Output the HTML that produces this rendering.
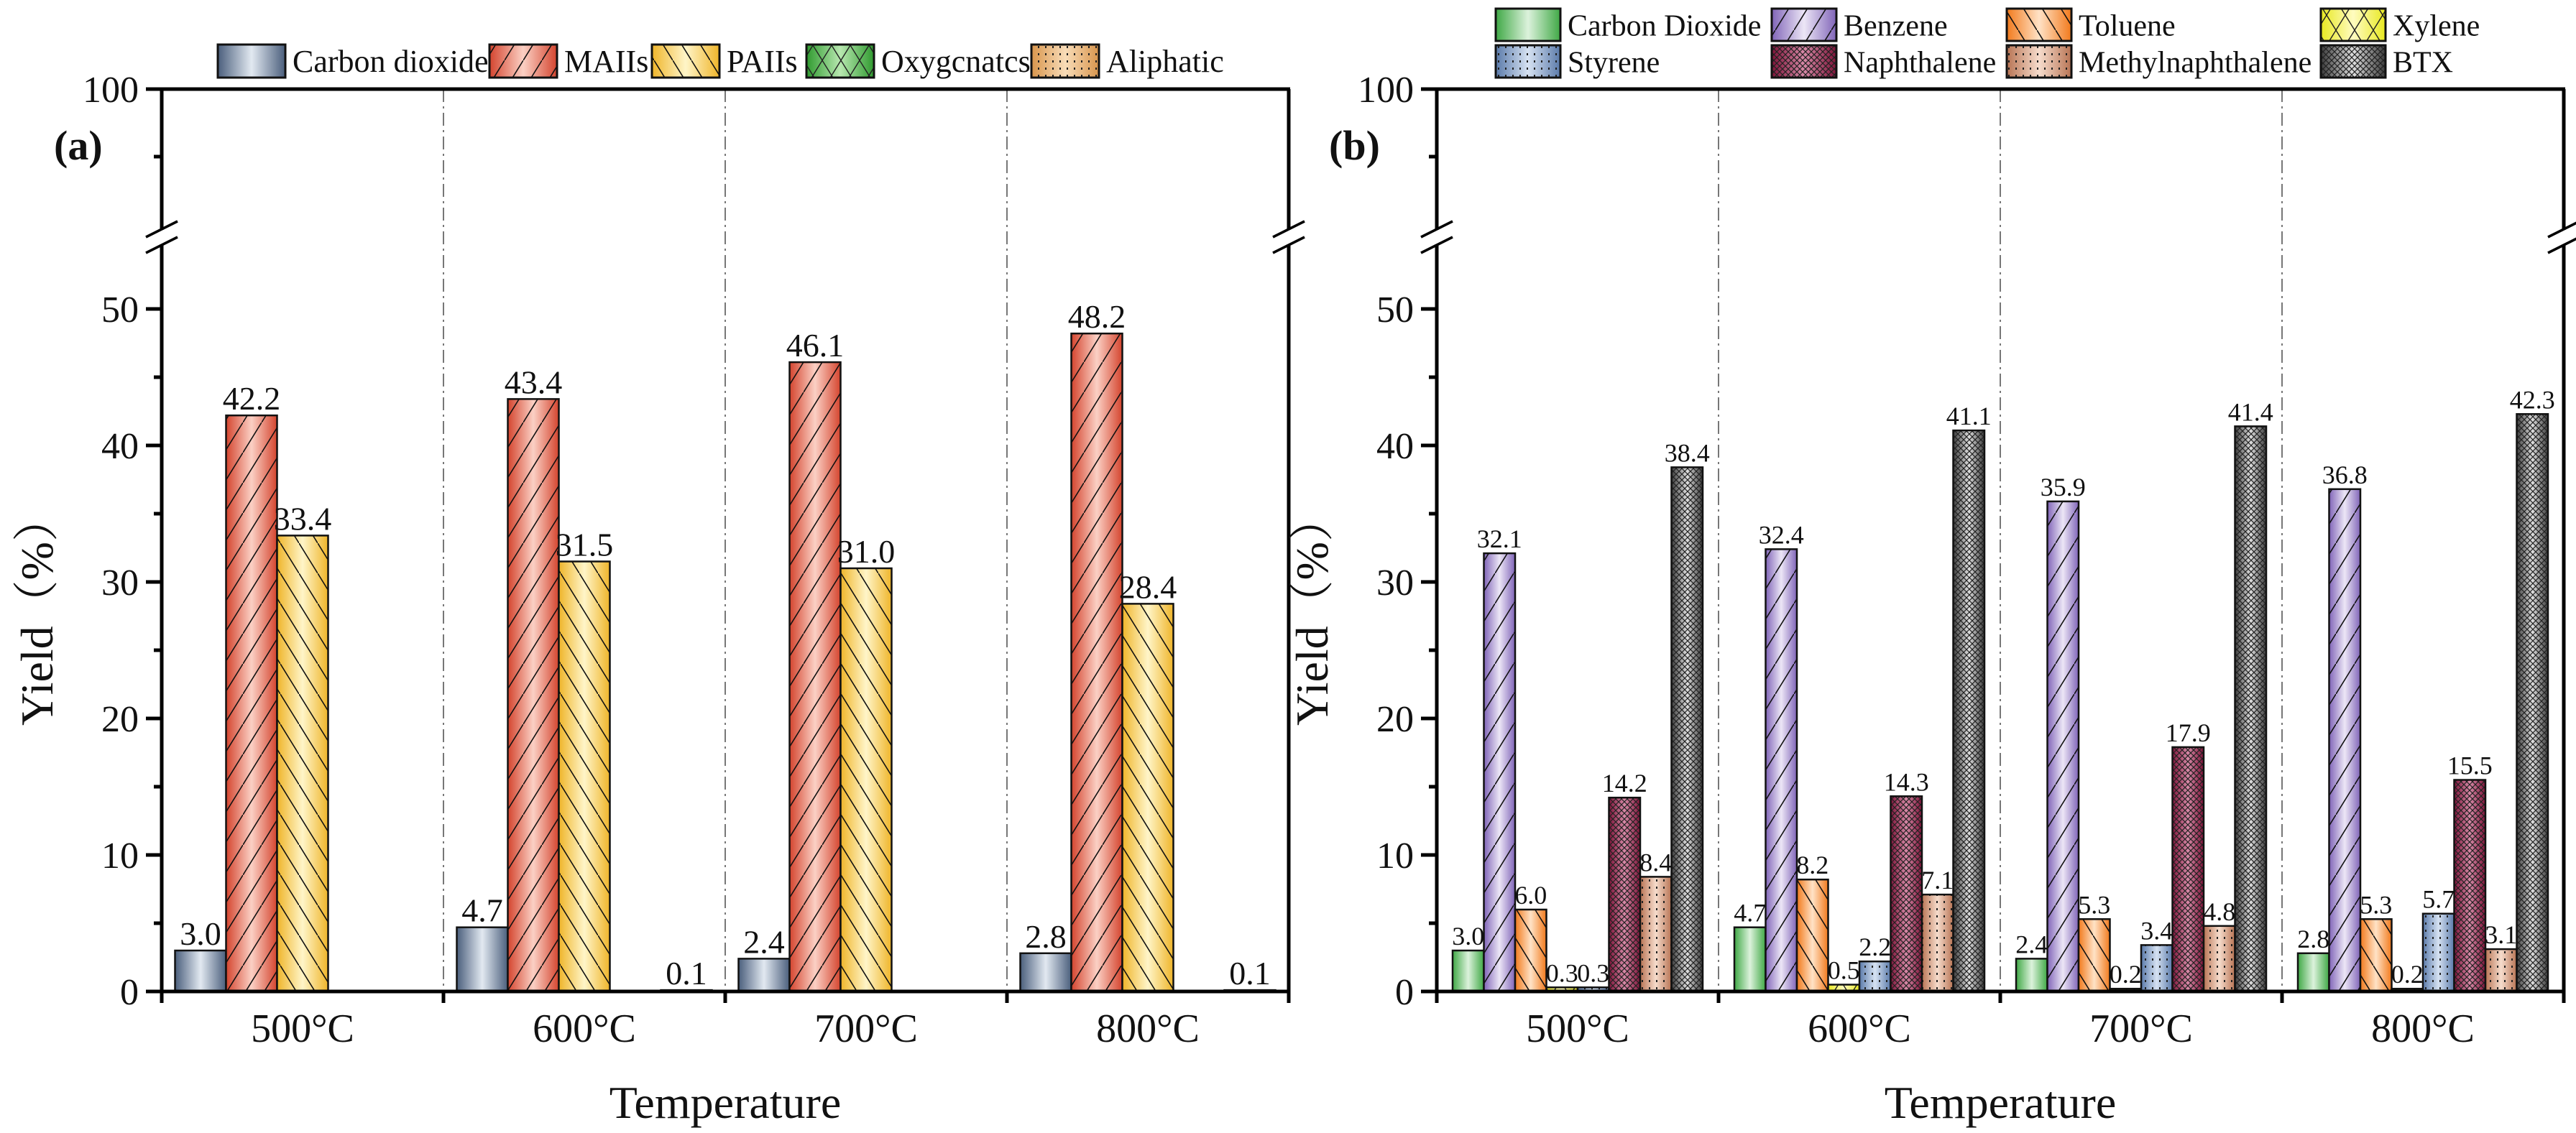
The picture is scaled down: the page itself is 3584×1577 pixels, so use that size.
<!DOCTYPE html>
<html><head><meta charset="utf-8"><style>
html,body{margin:0;padding:0;background:#fff}
svg{display:block;font-family:"Liberation Serif","Noto Serif CJK SC",serif}
</style></head><body>
<svg id="chart" width="3584" height="1577" viewBox="0 0 3584 1577" xmlns="http://www.w3.org/2000/svg">
<defs id="defs"></defs>
<g id="root"></g>
</svg>
<script>
const categories = ["500°C","600°C","700°C","800°C"];
const seriesA = ["Carbon dioxide","MAIIs","PAIIs","Oxygenates","Aliphatic"];
const legendA = ["Carbon dioxide","MAIIs","PAIIs","Oxygcnatcs","Aliphatic"];
const a_co2 = [3.0,4.7,2.4,2.8];
const a_maii = [42.2,43.4,46.1,48.2];
const a_paii = [33.4,31.5,31.0,28.4];
const a_oxy = [0,0,0,0];
const a_ali = [0,0.1,0,0.1];
const seriesB = ["Carbon Dioxide","Benzene","Toluene","Xylene","Styrene","Naphthalene","Methylnaphthalene","BTX"];
const b_co2 = [3.0,4.7,2.4,2.8];
const b_benz = [32.1,32.4,35.9,36.8];
const b_tol = [6.0,8.2,5.3,5.3];
const b_xyl = [0.3,0.5,0.2,0.2];
const b_sty = [0.3,2.2,3.4,5.7];
const b_naph = [14.2,14.3,17.9,15.5];
const b_mnaph = [8.4,7.1,4.8,3.1];
const b_btx = [38.4,41.1,41.4,42.3];
const lowerTicks = [0,10,20,30,40,50];
const minorTicks = [5,15,25,35,45];

const NS="http://www.w3.org/2000/svg";
const defs=document.getElementById('defs');
const root=document.getElementById('root');
function mk(tag,attrs,parent){const e=document.createElementNS(NS,tag);for(const k in attrs)e.setAttribute(k,attrs[k]);(parent||root).appendChild(e);return e;}

// styles: [dark, light, patternType, patternColor]
const stylesA=[["#4a5e7c","#e2e9f1","none"],["#d4442e","#fbd0c4","slash"],["#efb52a","#fff5c8","back"],["#2f9a2f","#b8e8b0","cross"],["#d8954c","#f8dcb8","dots"]];
const stylesB=[["#3fa845","#dcf2dc","none"],["#8064b8","#ece6f6","slash"],["#f27a1c","#ffe2c6","back"],["#e8e820","#fffcc0","cross"],["#5a7aaa","#d6e2f2","dots"],["#7e1238","#d88aa8","dense"],["#b87454","#f6dccc","dots"],["#3a3a3a","#e0e0e0","dense"]];

function makeDefs(id,st){
  const g=mk('linearGradient',{id:'g'+id,x1:'0',y1:'0',x2:'1',y2:'0'},defs);
  mk('stop',{offset:'0',['stop-color']:st[0]},g);
  mk('stop',{offset:'0.5',['stop-color']:st[1]},g);
  mk('stop',{offset:'1',['stop-color']:st[0]},g);
  const p=mk('pattern',{id:'p'+id,patternUnits:'userSpaceOnUse',width:'26',height:'42'},defs);
  const t=st[2];
  if(t==='slash'){mk('line',{x1:'0',y1:'42',x2:'26',y2:'0',stroke:'#111','stroke-width':'1.6'},p);}
  else if(t==='back'){mk('line',{x1:'0',y1:'0',x2:'26',y2:'42',stroke:'#111','stroke-width':'1.6'},p);}
  else if(t==='cross'){mk('line',{x1:'0',y1:'42',x2:'26',y2:'0',stroke:'#222','stroke-width':'1.4'},p);mk('line',{x1:'0',y1:'0',x2:'26',y2:'42',stroke:'#222','stroke-width':'1.4'},p);}
  else if(t==='dots'){p.setAttribute('width','10');p.setAttribute('height','10');mk('rect',{x:'4',y:'4',width:'2',height:'3',fill:'#222'},p);}
  else if(t==='dense'){p.setAttribute('width','8');p.setAttribute('height','8');mk('path',{d:'M0 8 L8 0 M0 0 L8 8',stroke:'#222','stroke-width':'1.2'},p);}
}
stylesA.forEach((s,i)=>makeDefs('a'+i,s));
stylesB.forEach((s,i)=>makeDefs('b'+i,s));

const Y0=1380, PX=19, YTOP=124, catW=392;
function yv(v){return Y0-PX*v;}

function panel(x0,tag,seriesNames,data,styles,barW,labelSize,label,title){
  const pg=mk('g',{});
  
  
  const W=catW*categories.length;
  // separators
  for(let i=1;i<categories.length;i++){
    const l=mk('line',{x1:x0+catW*i,y1:YTOP,x2:x0+catW*i,y2:Y0,stroke:'#777','stroke-width':'2','stroke-dasharray':'18 6 3 6'},pg);
    
    
  }
  // bars
  const off=(catW-barW*seriesNames.length)/2;
  data.forEach((arr,s)=>{
    arr.forEach((v,c)=>{
      const x=x0+catW*c+off+barW*s;
      const y=yv(v), h=Y0-y;
      if(v>0){
        const bg=mk('g',{},pg);
        
        
        mk('rect',{x:x,y:y,width:barW,height:h,fill:'url(#g'+tag+s+')'},bg);
        if(styles[s][2]!=='none')mk('rect',{x:x,y:y,width:barW,height:h,fill:'url(#p'+tag+s+')'},bg);
        mk('rect',{x:x,y:y,width:barW,height:h,fill:'none',stroke:'#111','stroke-width':'2.5'},bg);
        const t=mk('text',{x:x+barW/2,y:y-8,'text-anchor':'middle','font-size':labelSize,fill:'#111'},pg);
        t.textContent=v.toFixed(1);
        
        
      }
    });
  });
  // axes
  const ax=mk('g',{stroke:'#000','stroke-width':'5',fill:'none'},pg);
  
  
  mk('line',{x1:x0-2,y1:Y0,x2:x0+W+2,y2:Y0},ax);
  mk('line',{x1:x0-2,y1:YTOP,x2:x0+W+2,y2:YTOP},ax);
  [x0,x0+W].forEach(xx=>{
    mk('line',{x1:xx,y1:YTOP,x2:xx,y2:320},ax);
    mk('line',{x1:xx,y1:340,x2:xx,y2:Y0},ax);
    mk('line',{x1:xx-22,y1:330,x2:xx+22,y2:308,'stroke-width':'3.5'},ax);
    mk('line',{x1:xx-22,y1:352,x2:xx+22,y2:330,'stroke-width':'3.5'},ax);
  });
  for(let i=0;i<=categories.length;i++) mk('line',{x1:x0+catW*i,y1:Y0,x2:x0+catW*i,y2:Y0+16},ax);
  lowerTicks.forEach(v=>{mk('line',{x1:x0-22,y1:yv(v),x2:x0,y2:yv(v)},ax);
    const t=mk('text',{x:x0-32,y:yv(v)+18,'text-anchor':'end','font-size':'52',fill:'#111',stroke:'none'},pg);t.textContent=v;
    
    });
  minorTicks.forEach(v=>mk('line',{x1:x0-11,y1:yv(v),x2:x0,y2:yv(v)},ax));
  mk('line',{x1:x0-22,y1:YTOP,x2:x0,y2:YTOP},ax);
  mk('line',{x1:x0-11,y1:218,x2:x0,y2:218},ax);
  const t100=mk('text',{x:x0-32,y:YTOP+18,'text-anchor':'end','font-size':'52',fill:'#111'},pg);t100.textContent='100';
  
  
  categories.forEach((c,i)=>{const t=mk('text',{x:x0+catW*i+catW/2,y:1450,'text-anchor':'middle','font-size':'56',fill:'#111'},pg);t.textContent=c;
    
    });
  const xt=mk('text',{x:x0+W/2,y:1556,'text-anchor':'middle','font-size':'64',fill:'#111'},pg);xt.textContent='Temperature';
  
  
  const yt=mk('text',{x:0,y:0,'text-anchor':'middle','font-size':'64',fill:'#111',transform:'translate('+(x0-152)+',850) rotate(-90)'},pg);yt.textContent='Yield（%）';
  
  
  const pl=mk('text',{x:x0-150,y:222,'font-size':'58','font-weight':'bold',fill:'#111'},pg);pl.textContent=label;
  
  
}
panel(225,'a',seriesA,[a_co2,a_maii,a_paii,a_oxy,a_ali],stylesA,71,'46','(a)');
panel(1999,'b',seriesB,[b_co2,b_benz,b_tol,b_xyl,b_sty,b_naph,b_mnaph,b_btx],stylesB,43.5,'36','(b)');

// legends
function legendItem(tag,i,name,x,y,w,h,fs){
  const g=mk('g',{});
  
  
  mk('rect',{x:x,y:y,width:w,height:h,fill:'url(#g'+tag+i+')'},g);
  mk('rect',{x:x,y:y,width:w,height:h,fill:'url(#p'+tag+i+')'},g);
  mk('rect',{x:x,y:y,width:w,height:h,fill:'none',stroke:'#111','stroke-width':'3'},g);
  const t=mk('text',{x:x+w+10,y:y+h/2+15,'font-size':fs,fill:'#111'},g);t.textContent=name;
}
const legAx=[303,681,907,1122,1435];
legendA.forEach((n,i)=>legendItem('a',i,n,legAx[i],62,94,46,'44'));
const legBx=[2081,2465,2792,3229];
seriesB.forEach((n,i)=>legendItem('b',i,n,legBx[i%4],i<4?12:63,90,45,'42'));
</script>
</body></html>
